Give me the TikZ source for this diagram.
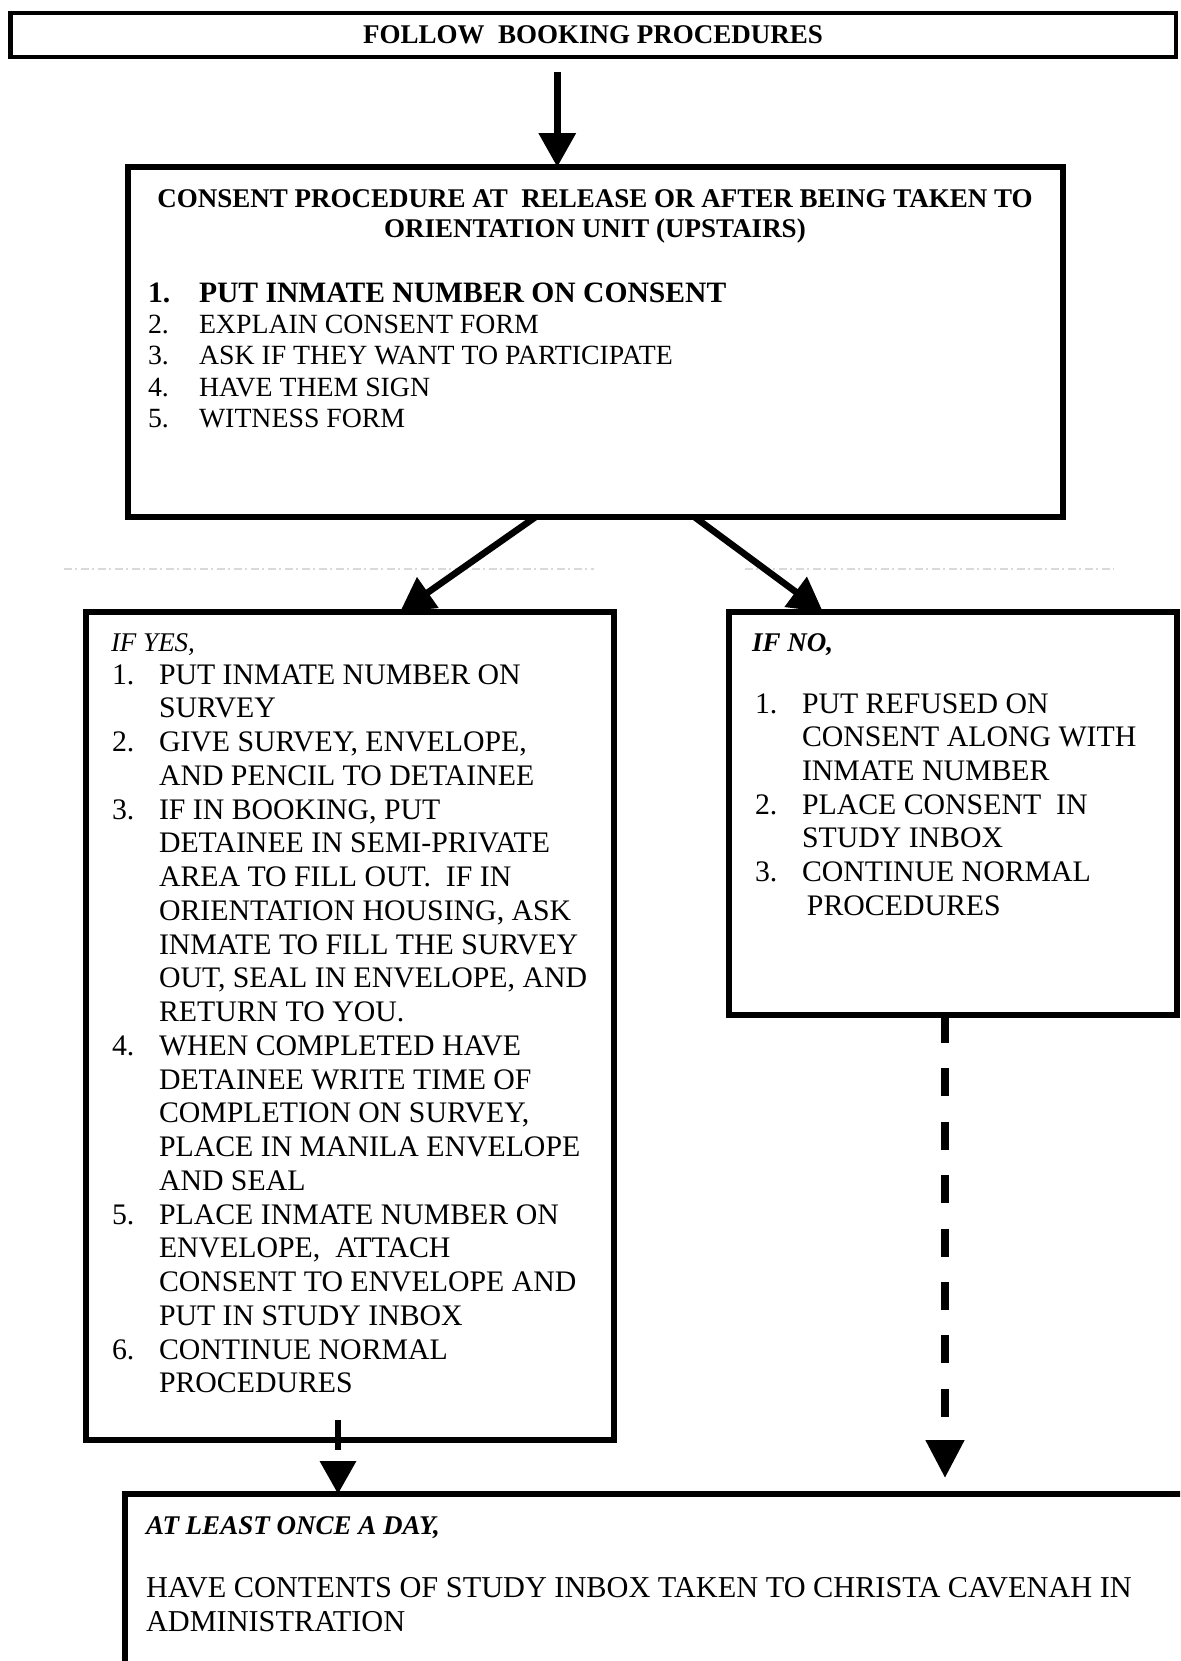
\documentclass[tikz,border=0pt]{standalone}
\usepackage{fontspec}
\setmainfont{Liberation Serif}
\usetikzlibrary{arrows.meta,calc,fit}
\newcommand\fsHead{\fontsize{13.5pt}{16pt}\selectfont\bfseries}
\newcommand\fsSmall{\fontsize{13.5pt}{16pt}\selectfont}
\newcommand\fsList{\fontsize{13.9pt}{16pt}\selectfont}
\newcommand\fsBig{\fontsize{14.8pt}{17pt}\selectfont}
\newcommand\fsBody{\fontsize{14.9pt}{17pt}\selectfont}
\newcommand\fsWide{\fontsize{15.15pt}{17pt}\selectfont}
\begin{document}
\begin{tikzpicture}[x=0.5pt,y=-0.5pt,
  box/.style={draw, line width=3.4pt, inner sep=0pt, outer sep=0pt, rectangle},
  thinbox/.style={draw, line width=2.4pt, inner sep=0pt, outer sep=0pt, rectangle},
  txt/.style={inner sep=0pt, outer sep=0pt, anchor=base west},
  ctxt/.style={inner sep=0pt, outer sep=0pt, anchor=base},
  arr/.style={line width=3.3pt, -{Triangle[width=18pt,length=17pt]}},
  darr/.style={line width=4pt, dash pattern=on 14pt off 12.7pt, -{Triangle[width=18.5pt,length=19pt]}},
  gaparr/.style={line width=3.3pt, dash pattern=on 15pt off 40pt, -{Triangle[width=17.5pt,length=16.5pt]}},
  faint/.style={gray!30, line width=0.6pt, dash pattern=on 4pt off 1.5pt on 1pt off 2pt}
]
\useasboundingbox (0,0) rectangle (1180,1661);
\fill[white] (0,0) rectangle (1180,1661);
\clip (0,0) rectangle (1180,1661);

% faint scan line
\draw[faint] (64,569) -- (594,569);
\draw[faint] (745,569) -- (1114,569);

% boxes
\node[thinbox, fit={(10.5,13) (1176,57)}] (top) {};
\node[box, fit={(128,167) (1063,517)}] (b2) {};
\node[box, fit={(86,612) (614,1440)}] (lb) {};
\node[box, fit={(729,612) (1177,1015)}] (rb) {};
\node[box, fit={(125,1494) (1230,1720)}] (bb) {};

% texts: top
\node[ctxt, font=\fsHead] (t0) at (593,43) {FOLLOW~~BOOKING PROCEDURES};

% consent box
\node[ctxt, font=\fsHead] (t1) at (595,207) {CONSENT PROCEDURE AT~~RELEASE OR AFTER BEING TAKEN TO};
\node[ctxt, font=\fsHead] (t2) at (595,237) {ORIENTATION UNIT (UPSTAIRS)};
\node[txt, font={\fsBig\bfseries}] (c1n) at (148,302) {1.};
\node[txt, font={\fsBig\bfseries}] (c1t) at (199,302) {PUT INMATE NUMBER ON CONSENT};
\foreach \n/\y/\t in {2/333/{EXPLAIN CONSENT FORM}, 3/364/{ASK IF THEY WANT TO PARTICIPATE}, 4/396/{HAVE THEM SIGN}, 5/427/{WITNESS FORM}} {
  \node[txt, font=\fsList] (c\n n) at (148,\y) {\n.};
  \node[txt, font=\fsList] (c\n t) at (199,\y) {\t};
}

% left box
\node[txt, font={\fsSmall\itshape}] (yes) at (111,651) {IF YES,};
\foreach \k/\t in {0/{PUT INMATE NUMBER ON}, 1/{SURVEY}, 2/{GIVE SURVEY, ENVELOPE,}, 3/{AND PENCIL TO DETAINEE}, 4/{IF IN BOOKING, PUT}, 5/{DETAINEE IN SEMI-PRIVATE}, 6/{AREA TO FILL OUT.~~IF IN}, 7/{ORIENTATION HOUSING, ASK}, 8/{INMATE TO FILL THE SURVEY}, 9/{OUT, SEAL IN ENVELOPE, AND}, 10/{RETURN TO YOU.}, 11/{WHEN COMPLETED HAVE}, 12/{DETAINEE WRITE TIME OF}, 13/{COMPLETION ON SURVEY,}, 14/{PLACE IN MANILA ENVELOPE}, 15/{AND SEAL}, 16/{PLACE INMATE NUMBER ON}, 17/{ENVELOPE,~~ATTACH}, 18/{CONSENT TO ENVELOPE AND}, 19/{PUT IN STUDY INBOX}, 20/{CONTINUE NORMAL}, 21/{PROCEDURES}} {
  \node[txt, font=\fsBody] (ly\k) at (159,{684+33.75*\k}) {\t};
}
\foreach \k/\n in {0/1, 2/2, 4/3, 11/4, 16/5, 20/6} {
  \node[txt, font=\fsBody] (lyn\n) at (112,{684+33.75*\k}) {\n.};
}

% right box
\node[txt, font={\fsSmall\bfseries\itshape}] (no) at (752,651) {IF NO,};
\foreach \k/\t in {0/{PUT REFUSED ON}, 1/{CONSENT ALONG WITH}, 2/{INMATE NUMBER}, 3/{PLACE CONSENT~~IN}, 4/{STUDY INBOX}, 5/{CONTINUE NORMAL}, 6/{\,PROCEDURES}} {
  \node[txt, font=\fsBody] (ry\k) at (802,{713+33.7*\k}) {\t};
}
\foreach \k/\n in {0/1, 3/2, 5/3} {
  \node[txt, font=\fsBody] (ryn\n) at (755,{713+33.7*\k}) {\n.};
}

% bottom box
\node[txt, font={\fsSmall\bfseries\itshape}] (day) at (146,1534) {AT LEAST ONCE A DAY,};
\node[txt, font=\fsWide] (bt1) at (146,1597) {HAVE CONTENTS OF STUDY INBOX TAKEN TO CHRISTA CAVENAH IN};
\node[txt, font=\fsWide] (bt2) at (146,1631) {ADMINISTRATION};

% connectors
\draw[arr] ($(top.south)+(-36,15)$) coordinate (a0) -- (a0 |- b2.north);
\draw[arr] ($(b2.south)+(-60,0)$) -- ($(lb.north)+(50,0)$);
\draw[arr] ($(b2.south)+(99,0)$) -- ($(rb.north)+(-130,0)$);
\draw[gaparr] ($(lb.south)+(-12,-20)$) coordinate (a3) -- (a3 |- bb.north);
\draw[darr] ($(rb.south)+(-8,0)$) coordinate (a4) -- ($(a4 |- bb.north)+(0,-16)$);
\end{tikzpicture}
\end{document}
